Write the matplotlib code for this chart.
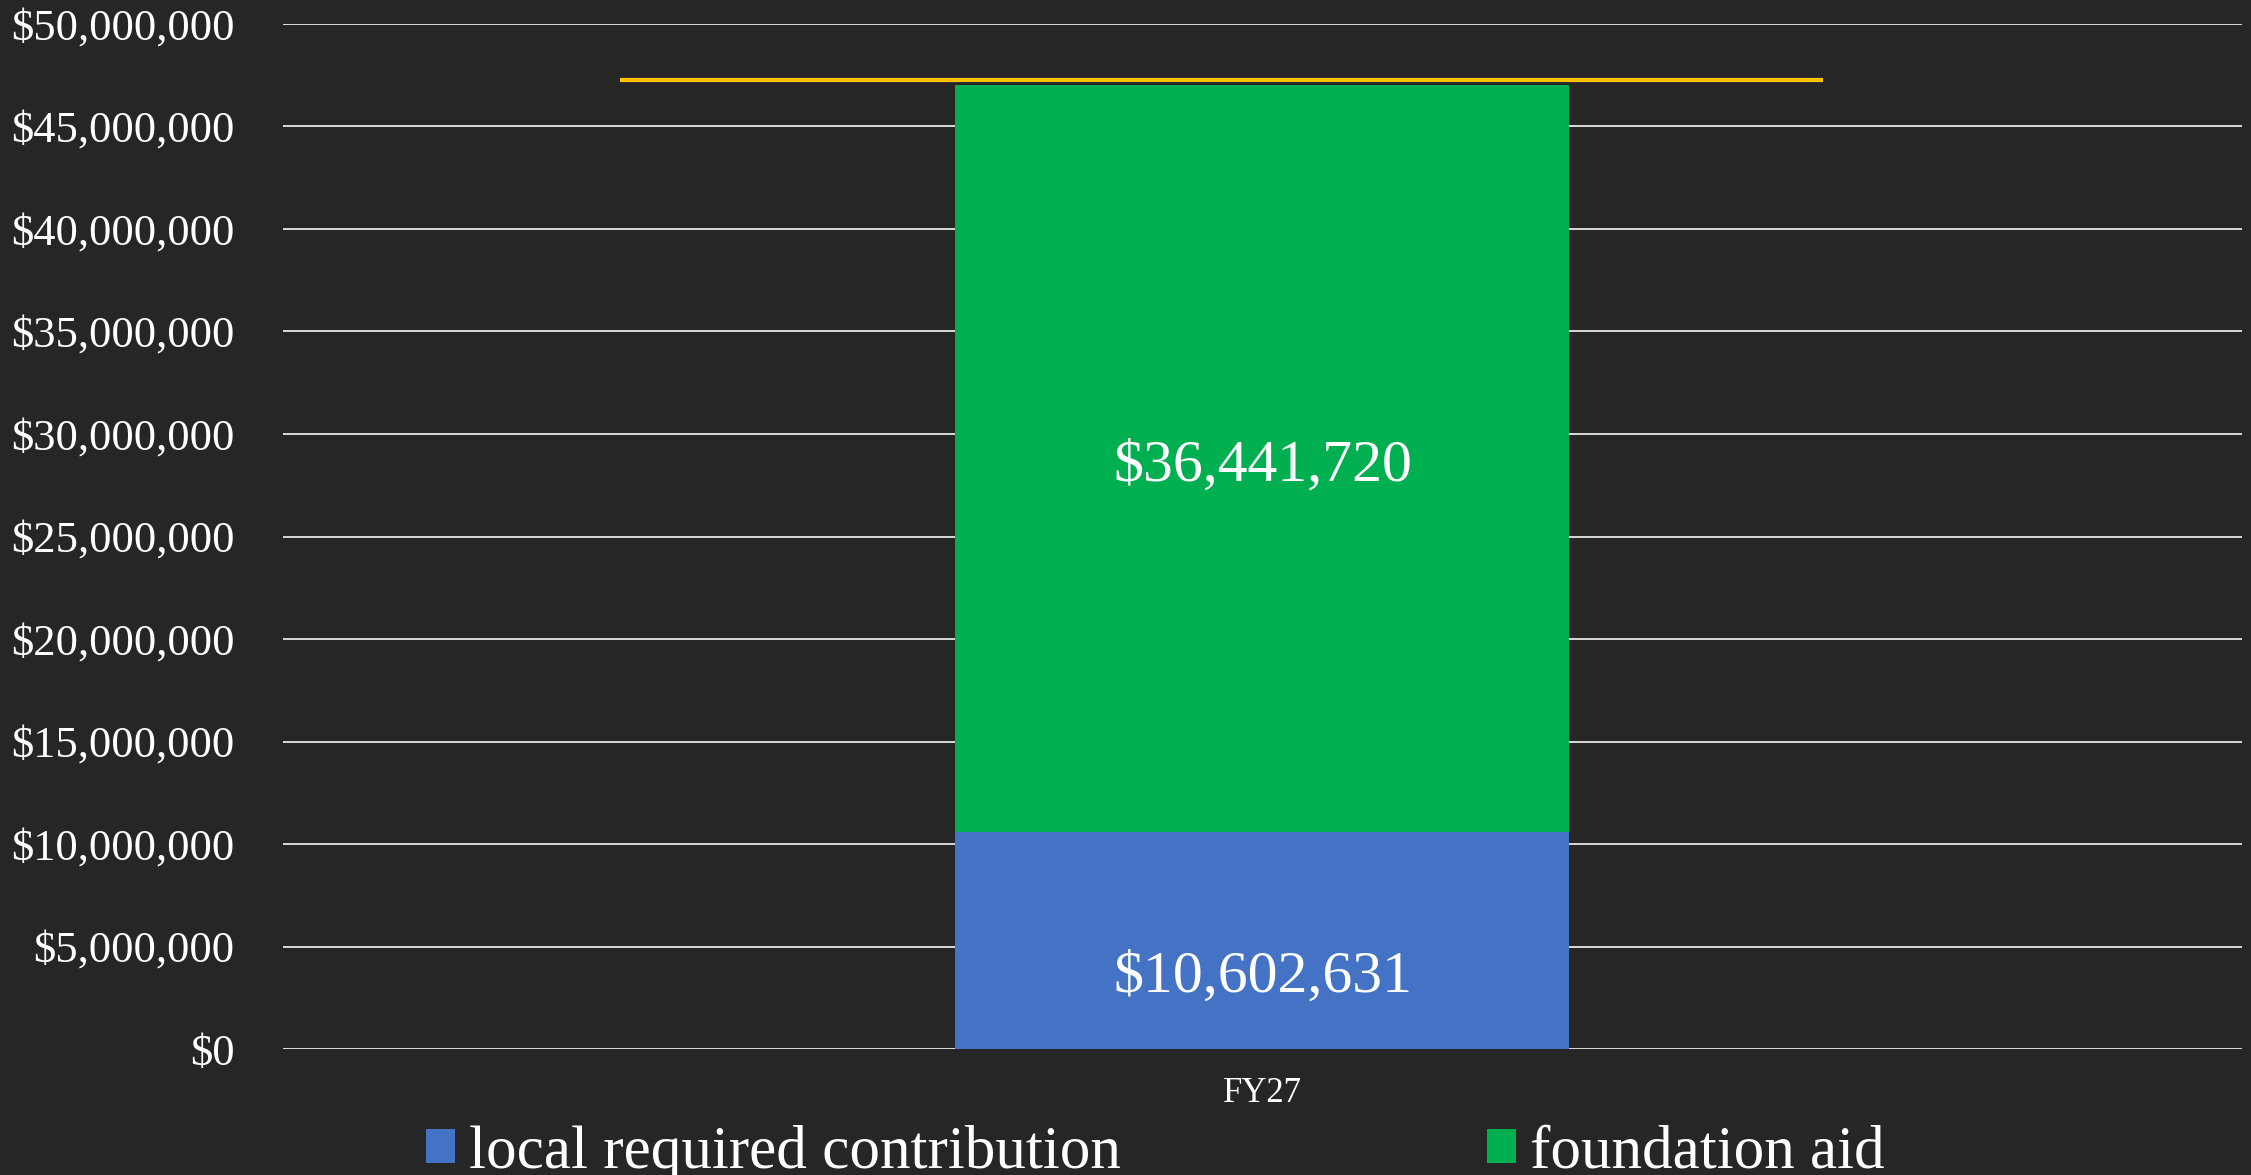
import matplotlib.pyplot as plt

# data
categories = ['FY27']
local_contribution = [10602631]
foundation_aid = [36441720]
target_line = 47250000
series_names = ['local required contribution', 'foundation aid']
y_ticks = list(range(0, 50000001, 5000000))

bg = '#262626'
blue = '#4472C4'
green = '#00B050'
gold = '#FFC000'

plt.rcParams['font.family'] = ['Liberation Serif', 'DejaVu Serif']

fig = plt.figure(figsize=(22.51, 11.75), dpi=100, facecolor=bg)
ax = fig.add_axes([0.1257, 0.1072, 0.8703, 0.8724], facecolor=bg)

x = list(range(len(categories)))
bar_w = 0.3134
b1 = ax.bar(x, local_contribution, width=bar_w, color=blue, zorder=3, label=series_names[0])
b2 = ax.bar(x, foundation_aid, width=bar_w, bottom=local_contribution, color=green, zorder=3,
            label=series_names[1])

# target line above the bar
for i in x:
    ax.hlines(target_line, i - 0.328, i + 0.286, color=gold, linewidth=3, zorder=4)

# value labels
for i in x:
    ax.annotate(f'${local_contribution[i]:,}', (i, local_contribution[i] / 2),
                xytext=(0, -27), textcoords='offset points',
                ha='center', va='center', color='white', fontsize=43, zorder=5)
    ax.annotate(f'${foundation_aid[i]:,}', (i, local_contribution[i] + foundation_aid[i] / 2),
                xytext=(0, -6), textcoords='offset points',
                ha='center', va='center', color='white', fontsize=43, zorder=5)

ax.set_xlim(-0.5, len(categories) - 0.5)
ax.set_ylim(0, 50000000)
ax.set_yticks(y_ticks)
ax.set_yticklabels([f'${v:,}' for v in y_ticks])
ax.set_xticks(x)
ax.set_xticklabels(categories)
ax.tick_params(axis='y', length=0, pad=35, labelsize=32, labelcolor='white')
ax.tick_params(axis='x', length=0, pad=20, labelsize=25, labelcolor='white')

ax.grid(axis='y', color='#d9d9d9', linewidth=1.4, zorder=1)
ax.set_axisbelow(True)
for s in ax.spines.values():
    s.set_visible(False)

fig.legend(handles=[b1, b2], labels=series_names, loc='center left',
           bbox_to_anchor=(0.1893, 0.019), ncol=2, frameon=False,
           fontsize=44, labelcolor='white', handlelength=0.47, handleheight=0.47,
           handletextpad=0.23, columnspacing=6.0, borderpad=0, borderaxespad=0)

fig.savefig('out.png', dpi=100, facecolor=bg)
